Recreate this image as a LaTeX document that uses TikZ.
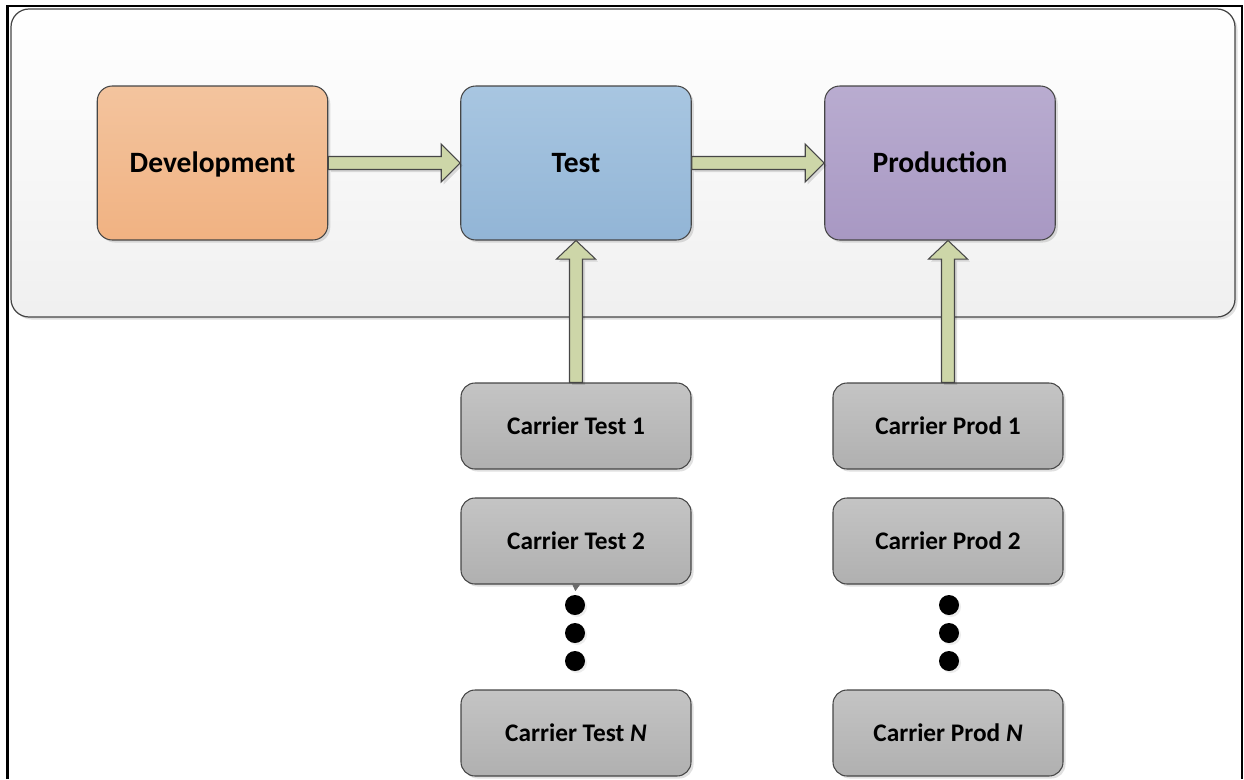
\documentclass[tikz,border=0pt]{standalone}
\usepackage{fontspec}
\setmainfont{Carlito}
\usepackage{xcolor}
\usetikzlibrary{
    arrows.meta,
    calc,
    shadows
}
\definecolor{devorange}{RGB}{241, 178, 130}
\definecolor{devorangetop}{RGB}{243, 196, 158}
\definecolor{testblue}{RGB}{146, 181, 214}
\definecolor{testbluetop}{RGB}{168, 198, 225}
\definecolor{prodpurple}{RGB}{168, 152, 195}
\definecolor{prodpurpletop}{RGB}{185, 172, 208}
\definecolor{carriergray}{RGB}{176, 176, 176}
\definecolor{carriergraytop}{RGB}{196, 196, 196}
\definecolor{arrowgreen}{RGB}{205, 214, 168}
\definecolor{edgegray}{RGB}{70, 70, 70}
\tikzset{
    softshadow/.style={drop shadow={shadow xshift=0.05cm, shadow yshift=-0.05cm, fill=black, opacity=0.12}},
    panel/.style={draw=edgegray, line width=0.7pt, rounded corners=0.36cm,
        top color=white, bottom color=black!6, minimum width=24.48cm, minimum height=6.16cm, softshadow},
    envbox/.style={draw=edgegray, line width=0.6pt, rounded corners=0.3cm,
        minimum width=4.61cm, minimum height=3.08cm, softshadow,
        text height=14pt, text depth=3.2pt,
        font=\fontsize{16.8}{20}\selectfont\bfseries},
    carrier/.style={draw=edgegray, line width=0.6pt, rounded corners=0.28cm,
        top color=carriergraytop, bottom color=carriergray,
        minimum width=4.6cm, minimum height=1.72cm, softshadow,
        text height=12pt, text depth=2.7pt,
        font=\fontsize{14.4}{17}\selectfont\bfseries},
    dot/.style={circle, fill=black, inner sep=0pt, minimum size=0.4cm,
        drop shadow={shadow xshift=0.04cm, shadow yshift=-0.04cm, opacity=0.15}},
    blockarrow/.style={draw=edgegray, line width=0.6pt, fill=arrowgreen, line join=miter, softshadow}
}
% block arrow pointing right, from #1 to #2
\newcommand{\hblock}[2]{%
    \path[blockarrow] let \p1=(#1.east), \p2=(#2.west) in
        (\x1,\y1+0.13cm) -- (\x2-0.38cm,\y1+0.13cm) -- (\x2-0.38cm,\y1+0.38cm) -- (\x2,\y1)
        -- (\x2-0.38cm,\y1-0.38cm) -- (\x2-0.38cm,\y1-0.13cm) -- (\x1,\y1-0.13cm) -- cycle;}
% block arrow pointing up, from #1 to #2
\newcommand{\vblock}[2]{%
    \path[blockarrow] let \p1=(#1.north), \p2=(#2.south) in
        (\x1-0.13cm,\y1) -- (\x1-0.13cm,\y2-0.37cm) -- (\x1-0.39cm,\y2-0.37cm) -- (\x1,\y2)
        -- (\x1+0.39cm,\y2-0.37cm) -- (\x1+0.13cm,\y2-0.37cm) -- (\x1+0.13cm,\y1) -- cycle;}

\begin{document}
\begin{tikzpicture}
    \useasboundingbox (0,0) rectangle (24.88,-15.58);

    % Outer frame (open at the bottom)
    \draw[black, line width=1.2pt] (0.15,-15.58) |- (24.84,-0.12) -- (24.84,-15.58);

    % Environment panel
    \node[panel] (panel) at (12.46,-3.26) {};

    % Environments
    \node[envbox, top color=devorangetop, bottom color=devorange] (dev) at (4.25,-3.26) {Development};
    \node[envbox, top color=testbluetop, bottom color=testblue] (test) at (11.52,-3.26) {Test};
    \node[envbox, top color=prodpurpletop, bottom color=prodpurple] (prod) at (18.8,-3.26) {Production};

    % Carriers
    \node[carrier] (ct1) at (11.52,-8.52) {Carrier Test 1};
    \node[carrier] (ct2) at (11.52,-10.82) {Carrier Test 2};
    \node[carrier] (ctn) at (11.52,-14.66) {Carrier Test \textit{N}};
    \node[carrier] (cp1) at (18.96,-8.52) {Carrier Prod 1};
    \node[carrier] (cp2) at (18.96,-10.82) {Carrier Prod 2};
    \node[carrier] (cpn) at (18.96,-14.66) {Carrier Prod \textit{N}};

    % Ellipsis dots
    \foreach \i/\y in {1/-12.1, 2/-12.66, 3/-13.22} {
        \node[dot] (td\i) at (11.5,\y) {};
        \node[dot] (pd\i) at (18.98,\y) {};
    }
    \draw[edgegray!80, line width=0.5pt, -{Triangle[length=0.16cm, width=0.18cm]}, shorten >=0.07cm] (ct2.south) -- (td1.north);

    % Promotion arrows
    \hblock{dev}{test}
    \hblock{test}{prod}
    \vblock{ct1}{test}
    \vblock{cp1}{prod}
\end{tikzpicture}
\end{document}
